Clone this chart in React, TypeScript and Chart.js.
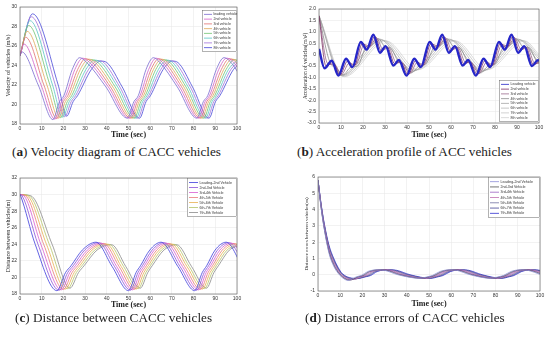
import React, { useEffect, useRef } from "react";
import { Chart, registerables } from "chart.js";

Chart.register(...registerables);

type P = [number, number];

const X_MIN = 0;
const X_MAX = 100;
const X_STEP = 10;
const TIME_TITLE = "Time (sec)";

// ---------- (a) velocity ----------
const VEL_LABELS = ["leading vehicle", "2nd vehicle", "3rd vehicle", "4th vehicle", "5th vehicle", "6th vehicle", "7th vehicle", "8th vehicle"];
const VEL_COLORS = ["#7a6ad0", "#d060c8", "#e07070", "#e0a858", "#70c470", "#58c4c4", "#a070d8", "#4848d8"];
const VEL_1: P[] = [[0,25],[0.8,25.4],[8.4,22],[15.2,18.45],[18.2,20.3],[20.2,20.9],[24.1,23.6],[27.5,24.8],[30.8,24.3],[39.6,21.8],[49.5,18.6],[52.5,20.3],[54.5,20.9],[58.1,23.6],[61.5,24.8],[64.5,24.3],[72.5,21.8],[81.5,18.6],[84.5,20.3],[86.5,20.9],[90.5,23.6],[94,24.8],[98,24.1],[106,21]];
const VEL_2: P[] = [[0,25],[1.8,26.2],[9.7,22],[16.1,18.5],[19.1,20.3],[21.1,20.9],[25.3,23.6],[28.9,24.75],[32.1,24.3],[40.7,21.8],[50.3,18.6],[53.3,20.3],[55.3,20.9],[59.3,23.6],[62.75,24.75],[65.7,24.3],[73.5,21.8],[82.3,18.6],[85.3,20.3],[87.3,20.9],[91.6,23.6],[95.25,24.75],[99.3,24.1],[107,21]];
const VEL_3: P[] = [[0,25],[2.6,26.9],[11,22],[17,18.55],[20,20.3],[22,20.9],[26.6,23.6],[30.3,24.7],[33.4,24.3],[41.7,21.8],[51.1,18.6],[54.1,20.3],[56.1,20.9],[60.4,23.6],[64,24.7],[66.9,24.3],[74.5,21.8],[83.1,18.6],[86.1,20.3],[88.1,20.9],[92.8,23.6],[96.5,24.7],[100.5,24.1],[108,21]];
const VEL_4: P[] = [[0,25],[3.3,27.5],[12.4,22],[17.9,18.6],[20.9,20.3],[22.9,20.9],[27.8,23.6],[31.7,24.65],[34.7,24.3],[42.8,21.8],[51.9,18.6],[54.9,20.3],[56.9,20.9],[61.5,23.6],[65.25,24.65],[68,24.3],[75.5,21.8],[83.9,18.6],[86.9,20.3],[88.9,20.9],[93.9,23.6],[97.75,24.65],[101.8,24.1],[109,21]];
const VEL_5: P[] = [[0,25],[4,28.1],[13.8,22],[18.8,18.65],[21.8,20.3],[23.8,20.9],[29.1,23.6],[33.1,24.6],[36,24.3],[43.9,21.8],[52.7,18.6],[55.7,20.3],[57.7,20.9],[62.6,23.6],[66.5,24.6],[69.2,24.3],[76.5,21.8],[84.7,18.6],[87.7,20.3],[89.7,20.9],[95,23.6],[99,24.6],[103,24.1]];
const VEL_6: P[] = [[0,25],[4.6,28.6],[15,22],[19.7,18.7],[22.7,20.3],[24.7,20.9],[30.4,23.6],[34.5,24.55],[37.4,24.3],[45,21.8],[53.5,18.6],[56.5,20.3],[58.5,20.9],[63.8,23.6],[67.75,24.55],[70.4,24.3],[77.5,21.8],[85.5,18.6],[88.5,20.3],[90.5,20.9],[96.1,23.6],[100.25,24.55]];
const VEL_7: P[] = [[0,25],[5.2,29],[16.3,22],[20.6,18.75],[23.6,20.3],[25.6,20.9],[31.6,23.6],[35.9,24.5],[38.7,24.3],[46,21.8],[54.3,18.6],[57.3,20.3],[59.3,20.9],[64.9,23.6],[69,24.5],[71.6,24.3],[78.5,21.8],[86.3,18.6],[89.3,20.3],[91.3,20.9],[97.2,23.6],[101.5,24.5]];
const VEL_8: P[] = [[0,25],[5.8,29.3],[17.6,22],[21.5,18.8],[24.5,20.3],[26.5,20.9],[32.9,23.6],[37.3,24.45],[40,24.3],[47.1,21.8],[55.1,18.6],[58.1,20.3],[60.1,20.9],[66,23.6],[70.25,24.45],[72.8,24.3],[79.5,21.8],[87.1,18.6],[90.1,20.3],[92.1,20.9],[98.4,23.6],[102.75,24.45]];

// ---------- (b) acceleration ----------
const ACC_LABELS = ["Leading vehicle", "2nd vehicle", "3rd vehicle", "4th vehicle", "5th vehicle", "6th vehicle", "7th vehicle", "8th vehicle"];
const ACC_COLORS = ["#2626c8", "#7a2f62", "#9a6a8c", "#8e8e8e", "#a4a4a4", "#b6b6b6", "#c6c6c6", "#d2d2d2"];
const ACC_1: P[] = [[0,0.25],[2.5,-0.6],[5.8,-0.27],[8.8,-0.92],[12.3,-0.18],[15.2,-0.55],[19,0.55],[21.7,0.22],[24.7,0.87],[27.7,0.08],[30.3,0.37],[33.8,-0.48],[36.3,-0.24],[39.8,-0.92],[43.3,-0.18],[46.3,-0.55],[50.3,0.55],[53,0.22],[56,0.87],[59,0.08],[61.8,0.37],[65.3,-0.48],[67.8,-0.24],[71.3,-0.92],[74.8,-0.18],[77.8,-0.55],[81.8,0.55],[84.5,0.22],[87.5,0.87],[90.5,0.08],[93.3,0.37],[96.8,-0.5],[99.5,-0.25],[100,-0.26]];
const ACC_2: P[] = [[0,1.7],[3.2,-0.5],[6.5,-0.35],[9.5,-0.9],[13,-0.28],[16,-0.5],[19.8,0.5],[22.4,0.28],[25.4,0.8],[28.4,0.15],[31,0.33],[34.5,-0.42],[37,-0.3],[40.5,-0.88],[44,-0.26],[47,-0.5],[51,0.5],[53.7,0.28],[56.7,0.8],[59.7,0.15],[62.5,0.33],[66,-0.42],[68.5,-0.3],[72,-0.88],[75.5,-0.26],[78.5,-0.5],[82.5,0.5],[85.2,0.28],[88.2,0.8],[91.2,0.15],[94,0.33],[97.5,-0.45],[100,-0.3]];
const ACC_3: P[] = [[0,1.7],[4,-0.4],[7.2,-0.45],[10.2,-0.88],[13.7,-0.38],[16.7,-0.45],[20.6,0.45],[23.1,0.35],[26.1,0.74],[29.1,0.22],[31.7,0.3],[35.2,-0.36],[37.7,-0.35],[41.2,-0.84],[44.7,-0.34],[47.7,-0.45],[51.7,0.45],[54.4,0.35],[57.4,0.74],[60.4,0.22],[63.2,0.3],[66.7,-0.36],[69.2,-0.35],[72.7,-0.84],[76.2,-0.34],[79.2,-0.45],[83.2,0.45],[85.9,0.35],[88.9,0.74],[91.9,0.22],[94.7,0.3],[98.2,-0.4],[100,-0.38]];
const ACC_4: P[] = [[0,1.7],[5,-0.35],[7.5,-0.55],[11,-0.88],[14.5,-0.55],[17.5,-0.5],[21.5,0.35],[24,0.42],[27,0.7],[30,0.35],[32.5,0.3],[36,-0.3],[38.5,-0.42],[42,-0.8],[45.5,-0.5],[48.5,-0.42],[52.5,0.35],[55.2,0.42],[58.2,0.7],[61.2,0.35],[64,0.3],[67.5,-0.3],[70,-0.42],[73.5,-0.8],[77,-0.5],[80,-0.42],[84,0.35],[86.7,0.42],[89.7,0.7],[92.7,0.35],[95.5,0.3],[99,-0.3],[100,-0.35]];
const ACC_5: P[] = [[0,1.7],[10,-0.92],[27.5,0.68],[42,-0.75],[59,0.68],[73.5,-0.75],[90.5,0.68],[100,-0.35]];
const ACC_6: P[] = [[0,1.7],[10.5,-0.93],[28.5,0.64],[43,-0.7],[60,0.64],[74.5,-0.7],[91.5,0.64],[100,-0.2]];
const ACC_7: P[] = [[0,1.7],[11,-0.95],[29.5,0.62],[44,-0.68],[61,0.62],[75.5,-0.68],[92.5,0.62],[100,-0.1]];
const ACC_8: P[] = [[0,1.7],[11.5,-0.97],[30.5,0.6],[45,-0.66],[62,0.6],[76.5,-0.66],[93.5,0.6],[100,0]];

// ---------- (c) distance ----------
const GAP_LABELS = ["Leading-2nd Vehicle", "2nd-3rd Vehicle", "3rd-4th Vehicle", "4th-5th Vehicle", "5th-6th Vehicle", "6th-7th Vehicle", "7th-8th Vehicle"];
const GAP_COLORS = ["#3c3cdc", "#8a50d8", "#d85ad0", "#e87a7a", "#e8b050", "#b4c468", "#8a8a8a"];
const GAP_1: P[] = [[0,30],[0.3,29.85],[7,24],[17,18.4],[21,20.6],[23.5,21.4],[28.7,23.3],[35,24.25],[42.5,21.3],[50,18.4],[53.5,20.6],[55.5,21.4],[59.8,23.3],[65,24.25],[72.8,21.3],[80.5,18.4],[84,20.6],[86,21.4],[89.9,23.3],[95,24.25],[102.5,21.3]];
const GAP_2: P[] = [[0,30],[1,29.85],[8.3,24],[18,18.45],[22,20.6],[24.5,21.4],[29.8,23.3],[36.2,24.2],[43.6,21.3],[50.9,18.45],[54.4,20.6],[56.4,21.4],[60.9,23.3],[66.2,24.2],[73.8,21.3],[81.4,18.45],[84.9,20.6],[86.9,21.4],[91,23.3],[96.2,24.2],[103.7,21.3]];
const GAP_3: P[] = [[0,30],[1.8,29.85],[9.6,24],[19,18.5],[23,20.6],[25.5,21.4],[31,23.3],[37.4,24.15],[44.6,21.3],[51.8,18.5],[55.3,20.6],[57.3,21.4],[61.9,23.3],[67.4,24.15],[74.9,21.3],[82.3,18.5],[85.8,20.6],[87.8,21.4],[92.1,23.3],[97.4,24.15],[104.9,21.3]];
const GAP_4: P[] = [[0,30],[2.6,29.85],[10.9,24],[20,18.55],[24,20.6],[26.5,21.4],[32.1,23.3],[38.6,24.1],[45.7,21.3],[52.7,18.55],[56.2,20.6],[58.2,21.4],[63,23.3],[68.6,24.1],[75.9,21.3],[83.2,18.55],[86.7,20.6],[88.7,21.4],[93.2,23.3],[98.6,24.1],[106,21.3]];
const GAP_5: P[] = [[0,30],[3.4,29.85],[12.2,24],[21,18.6],[25,20.6],[27.5,21.4],[33.2,23.3],[39.8,24.05],[46.7,21.3],[53.6,18.6],[57.1,20.6],[59.1,21.4],[64.1,23.3],[69.8,24.05],[77,21.3],[84.1,18.6],[87.6,20.6],[89.6,21.4],[94.3,23.3],[99.8,24.05],[107,21.3]];
const GAP_6: P[] = [[0,30],[4.2,29.85],[13.5,24],[22,18.65],[26,20.6],[28.5,21.4],[34.4,23.3],[41,24],[47.8,21.3],[54.5,18.65],[58,20.6],[60,21.4],[65.2,23.3],[71,24],[78,21.3],[85,18.65],[88.5,20.6],[90.5,21.4],[95.4,23.3],[101,24]];
const GAP_7: P[] = [[0,30],[5,29.85],[14.8,24],[23,18.7],[27,20.6],[29.5,21.4],[35.5,23.3],[42.2,23.95],[48.8,21.3],[55.4,18.7],[58.9,20.6],[60.9,21.4],[66.3,23.3],[72.2,23.95],[79.1,21.3],[85.9,18.7],[89.4,20.6],[91.4,21.4],[96.5,23.3],[102.2,23.95]];

// ---------- (d) distance errors ----------
const ERR_COLORS = ["#8c8cd8", "#505050", "#9a60c0", "#c070b0", "#7070a0", "#404090", "#3030d0"];
const ERR_1: P[] = [[0,5.8],[1.5,4.0],[3,2.65],[5,1.3],[7,0.55],[9,0.1],[11,-0.18],[13.5,-0.35],[17.5,-0.12],[19.5,-0.05],[22.5,0.2],[27,0.3],[30,0.27],[36,0],[46,-0.22],[49.5,-0.12],[51.5,-0.05],[55,0.2],[59.5,0.3],[62.5,0.27],[68.5,0],[78,-0.22],[81.5,-0.12],[83.5,-0.05],[87,0.2],[91.5,0.3],[94.5,0.27],[100.5,0]];
const ERR_2: P[] = [[0,5.8],[1.5,4.04],[3,2.71],[5,1.38],[7,0.63],[9,0.16],[11,-0.14],[14.2,-0.33],[18.2,-0.12],[20.2,-0.05],[23.2,0.2],[27.9,0.3],[30.9,0.27],[36.9,0],[46.8,-0.22],[50.3,-0.12],[52.3,-0.05],[55.8,0.2],[60.4,0.3],[63.4,0.27],[69.4,0],[78.8,-0.22],[82.3,-0.12],[84.3,-0.05],[87.8,0.2],[92.4,0.3],[95.4,0.27],[101.4,0]];
const ERR_3: P[] = [[0,5.8],[1.5,4.08],[3,2.77],[5,1.46],[7,0.71],[9,0.22],[11,-0.1],[14.9,-0.31],[18.9,-0.12],[20.9,-0.05],[23.9,0.2],[28.8,0.3],[31.8,0.27],[37.8,0],[47.6,-0.22],[51.1,-0.12],[53.1,-0.05],[56.6,0.2],[61.3,0.3],[64.3,0.27],[70.3,0],[79.6,-0.22],[83.1,-0.12],[85.1,-0.05],[88.6,0.2],[93.3,0.3],[96.3,0.27],[102.3,0]];
const ERR_4: P[] = [[0,5.8],[1.5,4.12],[3,2.83],[5,1.54],[7,0.79],[9,0.28],[11,-0.06],[15.6,-0.29],[19.6,-0.12],[21.6,-0.05],[24.6,0.2],[29.7,0.3],[32.7,0.27],[38.7,0],[48.4,-0.22],[51.9,-0.12],[53.9,-0.05],[57.4,0.2],[62.2,0.3],[65.2,0.27],[71.2,0],[80.4,-0.22],[83.9,-0.12],[85.9,-0.05],[89.4,0.2],[94.2,0.3],[97.2,0.27],[103.2,0]];
const ERR_5: P[] = [[0,5.8],[1.5,4.16],[3,2.89],[5,1.62],[7,0.87],[9,0.34],[11,-0.02],[16.3,-0.27],[20.3,-0.12],[22.3,-0.05],[25.3,0.2],[30.6,0.3],[33.6,0.27],[39.6,0],[49.2,-0.22],[52.7,-0.12],[54.7,-0.05],[58.2,0.2],[63.1,0.3],[66.1,0.27],[72.1,0],[81.2,-0.22],[84.7,-0.12],[86.7,-0.05],[90.2,0.2],[95.1,0.3],[98.1,0.27],[104.1,0]];
const ERR_6: P[] = [[0,5.8],[1.5,4.2],[3,2.95],[5,1.7],[7,0.95],[9,0.4],[11,0.02],[17,-0.25],[21,-0.12],[23,-0.05],[26,0.2],[31.5,0.3],[34.5,0.27],[40.5,0],[50,-0.22],[53.5,-0.12],[55.5,-0.05],[59,0.2],[64,0.3],[67,0.27],[73,0],[82,-0.22],[85.5,-0.12],[87.5,-0.05],[91,0.2],[96,0.3],[99,0.27],[105,0]];
const ERR_7: P[] = [[0,5.8],[1.5,4.24],[3,3.01],[5,1.78],[7,1.03],[9,0.46],[11,0.06],[17.7,-0.23],[21.7,-0.12],[23.7,-0.05],[26.7,0.2],[32.4,0.3],[35.4,0.27],[41.4,0],[50.8,-0.22],[54.3,-0.12],[56.3,-0.05],[59.8,0.2],[64.9,0.3],[67.9,0.27],[73.9,0],[82.8,-0.22],[86.3,-0.12],[88.3,-0.05],[91.8,0.2],[96.9,0.3],[99.9,0.27],[105.9,0]];

// ---------- plugins ----------
const framePlugin = {
  id: "frameBox",
  afterDatasetsDraw(chart: any) {
    const { ctx, chartArea: ca } = chart;
    ctx.save();
    ctx.strokeStyle = "#555";
    ctx.lineWidth = 0.6;
    ctx.strokeRect(ca.left, ca.top, ca.right - ca.left, ca.bottom - ca.top);
    ctx.restore();
  },
};

const boxLegendPlugin = {
  id: "boxLegend",
  afterDatasetsDraw(chart: any, _args: any, opts: any) {
    if (!opts || !opts.w) return;
    const { ctx, chartArea: ca } = chart;
    const x = ca.right - opts.w;
    const y = opts.anchor === "bottom" ? ca.bottom - opts.offset - opts.h : ca.top + opts.offset;
    ctx.save();
    ctx.fillStyle = "#ffffff";
    ctx.fillRect(x, y, opts.w, opts.h);
    ctx.strokeStyle = "#666";
    ctx.lineWidth = 0.5;
    ctx.strokeRect(x + 0.5, y + 0.5, opts.w - 1, opts.h - 1);
    const ds = chart.data.datasets;
    const row = (opts.h - 4) / ds.length;
    ctx.font = `${opts.font}px "Liberation Sans"`;
    ctx.textBaseline = "middle";
    ds.forEach((d: any, i: number) => {
      const cy = y + 2 + row * (i + 0.5);
      ctx.strokeStyle = d.borderColor;
      ctx.lineWidth = 0.8;
      ctx.beginPath();
      ctx.moveTo(x + 2, cy);
      ctx.lineTo(x + 2 + opts.lineLen, cy);
      ctx.stroke();
      ctx.fillStyle = "#333";
      ctx.fillText(d.label, x + 3.5 + opts.lineLen, cy);
    });
    ctx.restore();
  },
};

type Series = { label: string; data: P[]; color: string; width: number };
type Spec = {
  left: number; top: number; width: number; height: number;
  padding: { left: number; right: number; top: number; bottom: number };
  yWidth: number; xHeight: number;
  yMin: number; yMax: number; yStep: number;
  yTitle: string; yTitleSize: number;
  legend: any;
  series: Series[];
};

function Panel({ spec }: { spec: Spec }) {
  const ref = useRef<HTMLCanvasElement>(null);
  useEffect(() => {
    const tickFont = { family: '"Liberation Sans", Arial, sans-serif', size: 5 };
    const chart = new Chart(ref.current as HTMLCanvasElement, {
      type: "line",
      data: {
        datasets: spec.series.map((s) => ({
          label: s.label,
          data: s.data.map(([x, y]) => ({ x, y })),
          borderColor: s.color,
          backgroundColor: s.color,
          borderWidth: s.width,
          pointRadius: 0,
          fill: false,
          cubicInterpolationMode: "monotone",
          clip: 0,
        })),
      },
      options: {
        animation: false,
        responsive: false,
        devicePixelRatio: 1,
        events: [],
        layout: { padding: spec.padding },
        plugins: {
          legend: { display: false },
          tooltip: { enabled: false },
          boxLegend: spec.legend,
        } as any,
        scales: {
          x: {
            type: "linear",
            min: X_MIN,
            max: X_MAX,
            afterFit: (s: any) => { s.height = spec.xHeight; },
            ticks: { stepSize: X_STEP, font: tickFont, color: "#333", padding: 2, maxRotation: 0, autoSkip: false },
            grid: { color: "#e4e4e4", lineWidth: 0.5, drawTicks: false },
            border: { display: false },
            title: {
              display: true,
              text: TIME_TITLE,
              font: { family: '"Liberation Serif", serif', size: 8, weight: "bold" },
              color: "#222",
              padding: { top: 0, bottom: 0 },
            },
          },
          y: {
            type: "linear",
            min: spec.yMin,
            max: spec.yMax,
            afterFit: (s: any) => { s.width = spec.yWidth; },
            ticks: { stepSize: spec.yStep, font: tickFont, color: "#333", padding: 3, autoSkip: false },
            grid: { color: "#e4e4e4", lineWidth: 0.5, drawTicks: false },
            border: { display: false },
            title: {
              display: true,
              text: spec.yTitle,
              font: { family: '"Liberation Serif", serif', size: spec.yTitleSize },
              color: "#222",
              padding: { top: 0, bottom: 0 },
            },
          },
        },
      } as any,
      plugins: [framePlugin, boxLegendPlugin],
    });
    return () => chart.destroy();
  }, [spec]);
  return (
    <canvas
      ref={ref}
      width={spec.width}
      height={spec.height}
      style={{ position: "absolute", left: spec.left, top: spec.top, width: spec.width, height: spec.height }}
    />
  );
}

const mk = (labels: string[], colors: string[], arrs: P[][], widths?: number[]): Series[] =>
  arrs.map((d, i) => ({ label: labels[i], data: d, color: colors[i], width: widths ? widths[i] : 0.8 }));

const SPEC_A: Spec = {
  left: 0, top: 0, width: 275, height: 142,
  padding: { left: 5, right: 38, top: 7, bottom: 2 },
  yWidth: 15, xHeight: 16,
  yMin: 18, yMax: 30, yStep: 2,
  yTitle: "Velocity of vehicles (m/s)", yTitleSize: 6,
  legend: { w: 35, h: 42, anchor: "top", offset: 3, lineLen: 8, font: 3.6 },
  series: mk(VEL_LABELS, VEL_COLORS, [VEL_1, VEL_2, VEL_3, VEL_4, VEL_5, VEL_6, VEL_7, VEL_8]),
};

const SPEC_B: Spec = {
  left: 275, top: 0, width: 275, height: 142,
  padding: { left: 27, right: 11, top: 9, bottom: 2 },
  yWidth: 17, xHeight: 17,
  yMin: -3, yMax: 2, yStep: 0.5,
  yTitle: "Acceleration of vehicles(m/s\u00B2)", yTitleSize: 5.5,
  legend: { w: 40, h: 42, anchor: "bottom", offset: 1, lineLen: 8, font: 3.6 },
  series: mk(ACC_LABELS, ACC_COLORS, [ACC_1, ACC_2, ACC_3, ACC_4, ACC_5, ACC_6, ACC_7, ACC_8], [2.4, 0.8, 0.8, 0.8, 0.8, 0.8, 0.8, 0.8]),
};

const SPEC_C: Spec = {
  left: 0, top: 165, width: 275, height: 147,
  padding: { left: 5, right: 38, top: 13, bottom: 2 },
  yWidth: 15, xHeight: 16,
  yMin: 18, yMax: 32, yStep: 2,
  yTitle: "Distance between vehicles(m)", yTitleSize: 6,
  legend: { w: 50, h: 39, anchor: "top", offset: 0, lineLen: 9, font: 3.6 },
  series: mk(GAP_LABELS, GAP_COLORS, [GAP_1, GAP_2, GAP_3, GAP_4, GAP_5, GAP_6, GAP_7]),
};

const SPEC_D: Spec = {
  left: 275, top: 165, width: 275, height: 147,
  padding: { left: 29, right: 10, top: 12, bottom: 3 },
  yWidth: 14, xHeight: 18,
  yMin: -1, yMax: 6, yStep: 1,
  yTitle: "Distance errors between vehicles(m)", yTitleSize: 5,
  legend: { w: 52, h: 41, anchor: "top", offset: 0, lineLen: 9, font: 3.6 },
  series: mk(GAP_LABELS, ERR_COLORS, [ERR_1, ERR_2, ERR_3, ERR_4, ERR_5, ERR_6, ERR_7]),
};

const capStyle: React.CSSProperties = {
  position: "absolute",
  fontFamily: '"Liberation Serif", "DejaVu Serif", serif',
  fontSize: 13.2,
  lineHeight: "15px",
  color: "#222",
  whiteSpace: "nowrap",
};

export default function App() {
  return (
    <div style={{ position: "fixed", left: 0, top: 0, width: 550, height: 338, background: "#fff", overflow: "hidden" }}>
      <Panel spec={SPEC_A} />
      <Panel spec={SPEC_B} />
      <Panel spec={SPEC_C} />
      <Panel spec={SPEC_D} />
      <div style={{ ...capStyle, left: 12, top: 144 }}>(<b>a</b>) Velocity diagram of CACC vehicles</div>
      <div style={{ ...capStyle, left: 297, top: 144 }}>(<b>b</b>) Acceleration profile of ACC vehicles</div>
      <div style={{ ...capStyle, left: 15, top: 310 }}>(<b>c</b>) Distance between CACC vehicles</div>
      <div style={{ ...capStyle, left: 305, top: 310 }}>(<b>d</b>) Distance errors of CACC vehicles</div>
    </div>
  );
}
